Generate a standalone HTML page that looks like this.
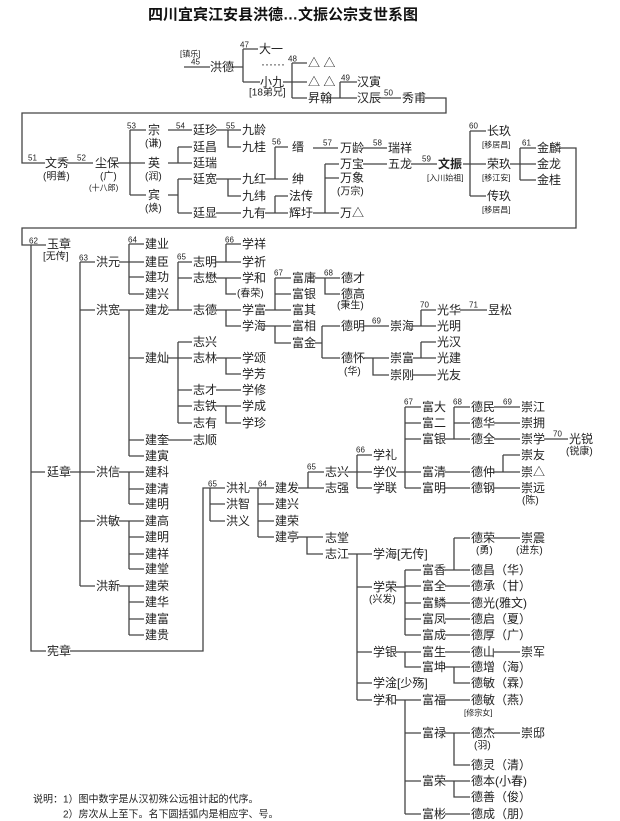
<!DOCTYPE html>
<html><head><meta charset="utf-8">
<style>
html,body{margin:0;padding:0;background:#fff;}
svg{display:block}
text{font-family:"Liberation Sans","Noto Sans CJK SC","WenQuanYi Zen Hei",sans-serif;font-size:12px;fill:#222;dominant-baseline:central}
.s{font-size:8px}
.m{font-size:10px}
.t{font-size:15px;font-weight:bold;fill:#111}
.b{font-weight:bold}
path{fill:none;stroke:#444;stroke-width:1.3}
</style></head><body>
<svg width="620" height="821" viewBox="0 0 620 821" xmlns="http://www.w3.org/2000/svg">
<text class="t" x="148" y="15">四川宜宾江安县洪德…文振公宗支世系图</text>
<path d="M184 67H210M232 67H243M243 49V82M243 49H258M243 82H260M283 82H292M292 63V98M292 63H307M292 82H307M292 98H307M327 98H357M340 82V98M340 82H357M380 98H401M425 98H446V113H22V163H45
M68 163H93M118 163H145M130 130V195M130 130H146M130 195H146M168 130H192M216 130H241M228 130V147H241M168 163H192M178 147V163M178 147H192M168 195H178M178 179V213M178 179H192M178 213H192M216 179H241M228 179V196H241M216 213H241M265 179H275M275 147V179M275 147H288M275 179H288M265 213H288M275 196V213M275 196H288
M313 148H338M363 148H387M313 213H325M325 164V213M325 164H339M325 178H339M325 213H339M363 164H387M411 164H437M463 164H486M470 131V196M470 131H486M470 196H486M510 164H520M520 148V180M520 148H536M520 180H536M520 164H536M560 148H576V228H22V245H46
M31 245V651H46M31 472H45M70 472H80M80 262V586M80 262H95M80 310H95M80 472H95M80 521H95M80 586H95
M119 262H129M129 244V294M129 244H144M129 262H144M129 277H144M129 294H144
M119 310H144M129 310V456M129 358H144M129 440H144M129 456H144
M119 472H144M129 472V504M129 489H144M129 504H144
M119 521H144M129 521V569M129 537H144M129 554H144M129 569H144
M119 586H144M129 586V635M129 602H144M129 619H144M129 635H144
M168 310H192M178 262V310M178 262H192M178 278H192
M216 262H226M226 244V262M226 244H241M226 262H241
M216 278H241M226 278V294H236
M216 310H241M226 310V326H241
M265 310H291M275 278V310M275 278H291M275 294H291
M265 326H291M275 326V343H291
M315 278H340M325 278V294H340
M315 343H322M322 326V358M322 326H340M322 358H340
M364 326H389M413 326H436M421 310V326M421 310H436M460 310H487
M364 358H389M373 358V375H389M413 358H436M421 342V358M421 342H436M413 375H436
M168 358H192M178 342V423M178 342H192M178 390H192M178 406H192M178 423H192
M216 358H241M226 358V374H241M216 390H241M216 406H241M226 406V423H241
M168 440H192
M70 651H203V488H225M210 488V521M210 504H225M210 521H225
M249 488H274M258 488V537M258 504H274M258 521H274M258 537H274
M298 488H324M308 472V488M308 472H324
M348 472H372M357 455V488M357 455H372M357 488H372
M396 472H421M405 407V488M405 407H421M405 423H421M405 439H421M405 488H421
M445 439H470M454 407V439M454 407H470M454 423H470
M494 407H520M494 423H520M494 439H520M544 439H568
M445 472H470M494 472H520M503 455V472M503 455H520
M445 488H470M494 488H520
M298 537H323M307 537V554H323
M348 554H372M357 554V700M357 587H372M357 652H372M357 683H372M357 700H372
M396 587H405M405 570V635M405 570H421M405 586H421M405 603H421M405 619H421M405 635H421
M445 570H470M454 538V570M454 538H470M494 538H520
M445 586H470M445 603H470M445 619H470M445 635H470
M396 652H421M405 652V667H421M445 652H470M494 652H520
M445 667H470M454 667V683H470
M396 700H421M405 700V814M405 733H421M405 781H421M405 814H421
M445 700H470M445 733H470M454 733V765H470M494 733H520
M445 781H470M454 781V797H470M445 814H470"/>

<!-- top -->
<text class="s" x="180" y="54">[镇乐]</text>
<text class="s" x="191" y="62">45</text>
<text x="210" y="67">洪德</text>
<text class="s" x="240" y="45">47</text>
<text x="259" y="49">大一</text>
<text x="261" y="64">······</text>
<text x="260" y="82">小九</text>
<text class="m" x="249" y="93">[18弟兄]</text>
<text class="s" x="288" y="59">48</text>
<text x="308" y="63">△ △</text>
<text x="308" y="82">△ △</text>
<text x="308" y="98">昇翰</text>
<text class="s" x="341" y="78">49</text>
<text x="357" y="82">汉寅</text>
<text x="357" y="98">汉辰</text>
<text class="s" x="384" y="93">50</text>
<text x="402" y="98">秀甫</text>

<!-- row 2 -->
<text class="s" x="28" y="158">51</text>
<text x="45" y="163">文秀</text>
<text class="m" x="43" y="177">(明善)</text>
<text class="s" x="77" y="158">52</text>
<text x="95" y="163">尘保</text>
<text class="m" x="100" y="177">(广)</text>
<text class="s" x="89" y="188">(十八郎)</text>
<text class="s" x="127" y="126">53</text>
<text x="148" y="130">宗</text>
<text class="m" x="145" y="144">(谦)</text>
<text x="148" y="163">英</text>
<text class="m" x="145" y="177">(润)</text>
<text x="148" y="195">宾</text>
<text class="m" x="145" y="209">(焕)</text>
<text class="s" x="176" y="126">54</text>
<text x="193" y="130">廷珍</text>
<text x="193" y="147">廷昌</text>
<text x="193" y="163">廷瑞</text>
<text x="193" y="179">廷宽</text>
<text x="193" y="213">廷显</text>
<text class="s" x="226" y="126">55</text>
<text x="242" y="130">九龄</text>
<text x="242" y="147">九桂</text>
<text x="242" y="179">九红</text>
<text x="242" y="196">九纬</text>
<text x="242" y="213">九有</text>
<text class="s" x="272" y="142">56</text>
<text x="292" y="147">缙</text>
<text x="292" y="179">绅</text>
<text x="289" y="196">法传</text>
<text x="289" y="213">辉圩</text>
<text class="s" x="323" y="143">57</text>
<text x="340" y="148">万龄</text>
<text class="s" x="373" y="143">58</text>
<text x="388" y="148">瑞祥</text>
<text x="340" y="164">万宝</text>
<text x="340" y="178">万象</text>
<text class="m" x="337" y="192">(万宗)</text>
<text x="340" y="213">万△</text>
<text x="388" y="164">五龙</text>
<text class="s" x="422" y="159">59</text>
<text class="b" x="438" y="164">文振</text>
<text class="s" x="427" y="178">[入川始祖]</text>
<text class="s" x="469" y="126">60</text>
<text x="487" y="131">长玖</text>
<text class="s" x="482" y="145">[移居昌]</text>
<text x="487" y="164">荣玖</text>
<text class="s" x="482" y="178">[移江安]</text>
<text x="487" y="196">传玖</text>
<text class="s" x="482" y="210">[移居昌]</text>
<text class="s" x="522" y="143">61</text>
<text x="537" y="148">金麟</text>
<text x="537" y="164">金龙</text>
<text x="537" y="180">金桂</text>

<!-- lower left -->
<text class="s" x="29" y="241">62</text>
<text x="47" y="244">玉章</text>
<text class="m" x="43" y="257">[无传]</text>
<text x="47" y="472">廷章</text>
<text x="47" y="651">宪章</text>
<text class="s" x="79" y="258">63</text>
<text x="96" y="262">洪元</text>
<text x="96" y="310">洪宽</text>
<text x="96" y="472">洪信</text>
<text x="96" y="521">洪敏</text>
<text x="96" y="586">洪新</text>
<text class="s" x="128" y="240">64</text>
<text x="145" y="244">建业</text>
<text x="145" y="262">建臣</text>
<text x="145" y="277">建功</text>
<text x="145" y="294">建兴</text>
<text x="145" y="310">建龙</text>
<text x="145" y="358">建灿</text>
<text x="145" y="440">建奎</text>
<text x="145" y="456">建寅</text>
<text x="145" y="472">建科</text>
<text x="145" y="489">建清</text>
<text x="145" y="504">建明</text>
<text x="145" y="521">建高</text>
<text x="145" y="537">建明</text>
<text x="145" y="554">建祥</text>
<text x="145" y="569">建堂</text>
<text x="145" y="586">建荣</text>
<text x="145" y="602">建华</text>
<text x="145" y="619">建富</text>
<text x="145" y="635">建贵</text>
<text class="s" x="177" y="257">65</text>
<text x="193" y="262">志明</text>
<text x="193" y="278">志懋</text>
<text x="193" y="310">志德</text>
<text x="193" y="342">志兴</text>
<text x="193" y="358">志林</text>
<text x="193" y="390">志才</text>
<text x="193" y="406">志铁</text>
<text x="193" y="423">志有</text>
<text x="193" y="440">志顺</text>
<text class="s" x="225" y="240">66</text>
<text x="242" y="244">学祥</text>
<text x="242" y="262">学祈</text>
<text x="242" y="278">学和</text>
<text class="m" x="237" y="294">(春荣)</text>
<text x="242" y="310">学富</text>
<text x="242" y="326">学海</text>
<text x="242" y="358">学颂</text>
<text x="242" y="374">学芳</text>
<text x="242" y="390">学修</text>
<text x="242" y="406">学成</text>
<text x="242" y="423">学珍</text>
<text class="s" x="274" y="273">67</text>
<text x="292" y="278">富庸</text>
<text x="292" y="294">富银</text>
<text x="292" y="310">富其</text>
<text x="292" y="326">富相</text>
<text x="292" y="343">富金</text>
<text class="s" x="324" y="273">68</text>
<text x="341" y="278">德才</text>
<text x="341" y="294">德高</text>
<text class="m" x="337" y="306">(秉生)</text>
<text x="341" y="326">德明</text>
<text class="s" x="372" y="321">69</text>
<text x="341" y="358">德怀</text>
<text class="m" x="344" y="372">(华)</text>
<text x="390" y="326">崇海</text>
<text x="390" y="358">崇富</text>
<text x="390" y="375">崇刚</text>
<text class="s" x="420" y="305">70</text>
<text x="437" y="310">光华</text>
<text x="437" y="326">光明</text>
<text x="437" y="342">光汉</text>
<text x="437" y="358">光建</text>
<text x="437" y="375">光友</text>
<text class="s" x="469" y="305">71</text>
<text x="488" y="310">昱松</text>

<!-- lower right -->
<text class="s" x="208" y="484">65</text>
<text x="226" y="488">洪礼</text>
<text x="226" y="504">洪智</text>
<text x="226" y="521">洪义</text>
<text class="s" x="258" y="484">64</text>
<text x="275" y="488">建发</text>
<text x="275" y="504">建兴</text>
<text x="275" y="521">建荣</text>
<text x="275" y="537">建亭</text>
<text class="s" x="307" y="467">65</text>
<text x="325" y="472">志兴</text>
<text x="325" y="488">志强</text>
<text x="325" y="538">志堂</text>
<text x="325" y="554">志江</text>
<text class="s" x="356" y="450">66</text>
<text x="373" y="455">学礼</text>
<text x="373" y="472">学仪</text>
<text x="373" y="488">学联</text>
<text x="373" y="554">学海[无传]</text>
<text x="373" y="587">学荣</text>
<text class="m" x="369" y="600">(兴发)</text>
<text x="373" y="652">学银</text>
<text x="373" y="683">学淦[少殇]</text>
<text x="373" y="700">学和</text>
<text class="s" x="404" y="402">67</text>
<text x="422" y="407">富大</text>
<text x="422" y="423">富二</text>
<text x="422" y="439">富银</text>
<text x="422" y="472">富清</text>
<text x="422" y="488">富明</text>
<text x="422" y="570">富香</text>
<text x="422" y="586">富全</text>
<text x="422" y="603">富鳞</text>
<text x="422" y="619">富凤</text>
<text x="422" y="635">富成</text>
<text x="422" y="652">富生</text>
<text x="422" y="667">富坤</text>
<text x="422" y="700">富福</text>
<text x="422" y="733">富禄</text>
<text x="422" y="781">富荣</text>
<text x="422" y="814">富彬</text>
<text class="s" x="453" y="402">68</text>
<text x="471" y="407">德民</text>
<text x="471" y="423">德华</text>
<text x="471" y="439">德全</text>
<text x="471" y="472">德仲</text>
<text x="471" y="488">德钢</text>
<text x="471" y="538">德荣</text>
<text class="m" x="476" y="551">(勇)</text>
<text x="471" y="570">德昌（华）</text>
<text x="471" y="586">德承（甘）</text>
<text x="471" y="603">德光(雅文)</text>
<text x="471" y="619">德启（夏）</text>
<text x="471" y="635">德厚（广）</text>
<text x="471" y="652">德山</text>
<text x="471" y="667">德增（海）</text>
<text x="471" y="683">德敏（霖）</text>
<text x="471" y="700">德敏（燕）</text>
<text class="s" x="464" y="713">[修宗女]</text>
<text x="471" y="733">德杰</text>
<text class="m" x="474" y="746">(羽)</text>
<text x="471" y="765">德灵（清）</text>
<text x="471" y="781">德本(小春)</text>
<text x="471" y="797">德善（俊）</text>
<text x="471" y="814">德成（朋）</text>
<text class="s" x="503" y="402">69</text>
<text x="521" y="407">崇江</text>
<text x="521" y="423">崇拥</text>
<text x="521" y="439">崇学</text>
<text x="521" y="455">崇友</text>
<text x="521" y="472">崇△</text>
<text x="521" y="488">崇远</text>
<text class="m" x="522" y="501">(陈)</text>
<text x="521" y="538">崇震</text>
<text class="m" x="516" y="551">(进东)</text>
<text x="521" y="652">崇军</text>
<text x="521" y="733">崇邸</text>
<text class="s" x="553" y="434">70</text>
<text x="569" y="439">光锐</text>
<text class="m" x="566" y="452">(锐康)</text>

<text class="m" x="33" y="800">说明：1）图中数字是从汉初殊公远祖计起的代序。</text>
<text class="m" x="63" y="815">2）房次从上至下。名下圆括弧内是相应字、号。</text>
</svg>
</body></html>
